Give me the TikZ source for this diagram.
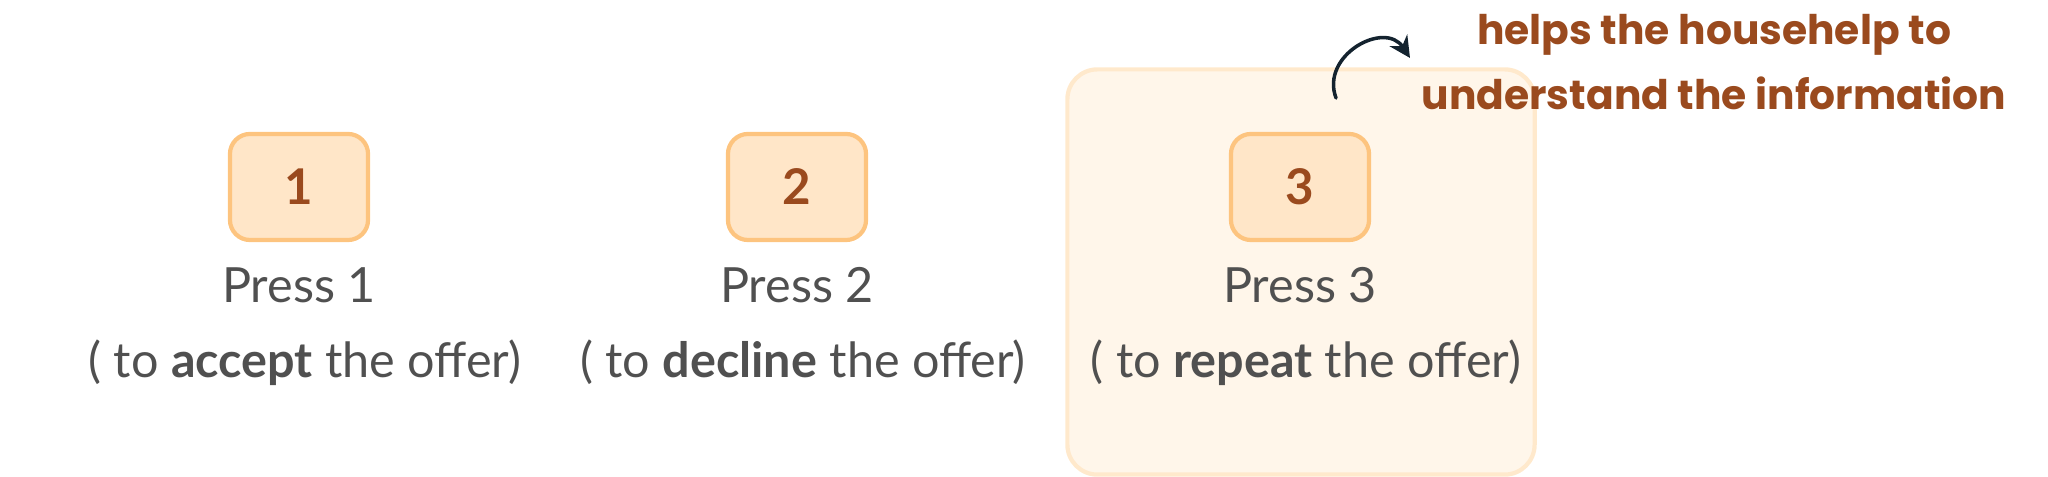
\documentclass[tikz,border=0pt]{standalone}
\usepackage{fontspec}
\setmainfont{Lato}
\newfontfamily\notefont{Poppins}
\usetikzlibrary{arrows.meta}
\definecolor{keyFill}{HTML}{FFE6C8}
\definecolor{keyEdge}{HTML}{FDC47F}
\definecolor{hlFill}{HTML}{FFF6EA}
\definecolor{hlEdge}{HTML}{FFE9CC}
\definecolor{brownText}{HTML}{9A4A1E}
\definecolor{greyText}{HTML}{505050}
\definecolor{inkNavy}{HTML}{14232F}

\begin{document}
\begin{tikzpicture}[
  x=0.01cm, y=-0.01cm,
  keybox/.style={draw=keyEdge, line width=1.2pt, fill=keyFill, rounded corners=0.2cm,
    minimum width=1.38cm, minimum height=1.06cm, inner sep=0pt,
    text=brownText, font=\fontsize{14}{16}\selectfont\bfseries},
  caption/.style={anchor=base, inner sep=0pt, text=greyText,
    font=\fontsize{13.8}{16}\selectfont},
  highlight/.style={draw=hlEdge, line width=1.2pt, fill=hlFill, rounded corners=0.3cm,
    minimum width=4.67cm, minimum height=4.05cm, inner sep=0pt},
]
\useasboundingbox (0,0) rectangle (2048,477);

% --- Highlight behind option 3 -------------------------------------
\node[highlight] (hl) at (1301,272) {};

% --- Keypad options --------------------------------------------------
\foreach \x/\n/\act in {299/1/accept, 797/2/decline, 1300/3/repeat} {
  \node[keybox] (key\n) at (\x,187) {\n};
  \node[caption] (press\n) at (\x,303) {Press \n};
  \node[caption] (what\n) at ([xshift=0.06cm]key\n |- 0,378) {( to \textbf{\act} the offer)};
}

% --- Annotation --------------------------------------------------------
\node[align=center, text=brownText, inner sep=0pt,
  font=\notefont\bfseries\fontsize{11.6}{18.5}\selectfont] (note) at (1714,62)
  {helps the househelp to\\understand the information};
\coordinate (tail) at (1336,98);
\coordinate (tip) at (1410,58);
\draw[inkNavy, line width=1pt, line cap=round, -{Stealth[length=6pt,width=6pt]}]
  (tail) .. controls (1320,55) and (1385,20) .. (tip);
\end{tikzpicture}
\end{document}
